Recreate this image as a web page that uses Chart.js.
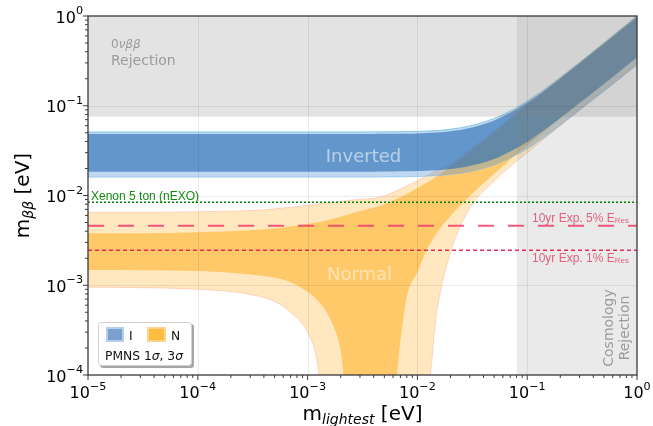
<!DOCTYPE html>
<html>
<head>
<meta charset="utf-8">
<script src="https://cdn.jsdelivr.net/npm/chart.js@4.4.1/dist/chart.umd.min.js"></script>
<style>
  html, body { margin: 0; padding: 0; background: #fff; }
  canvas { display: block; }
</style>
</head>
<body>
<canvas id="mbbChart" width="653" height="426"></canvas>
<script>
// lightest neutrino mass [eV]
const mLightest = [1e-5, 3e-5, 1e-4, 3e-4, 5e-4, 7e-4, 1e-3, 1.2e-3, 1.4e-3, 1.7e-3, 2e-3, 2.3e-3,
    3e-3, 4e-3, 5e-3, 6e-3, 7e-3, 8e-3, 1e-2, 1.2e-2, 1.5e-2, 2e-2, 3e-2, 5e-2,
    7e-2, 0.1, 0.15, 0.2, 0.3, 0.5, 0.7, 1];

// normal ordering, m_bb band edges [eV] (5e-5 = zero, below the axis)
const normal3Upper = [0.0065, 0.0065, 0.0066, 0.0068, 0.0071, 0.0074, 0.0078, 0.0080, 0.0082, 0.0084, 0.0086, 0.0088,
    0.0091, 0.0093, 0.0099, 0.0108, 0.0118, 0.0128, 0.0146, 0.0165, 0.0188, 0.0222, 0.0325, 0.052,
    0.072, 0.102, 0.152, 0.202, 0.302, 0.502, 0.702, 1.0];
const normal3Lower = [0.00095, 0.00094, 0.00090, 0.00079, 0.00066, 0.00050, 0.00030, 0.00016, 5e-5, 5e-5, 5e-5, 5e-5,
    5e-5, 5e-5, 5e-5, 5e-5, 5e-5, 5e-5, 5e-5, 5e-5, 0.00050, 0.0023, 0.0072, 0.0145,
    0.021, 0.030, 0.045, 0.060, 0.090, 0.150, 0.205, 0.29];
const normal1Upper = [0.0038, 0.0038, 0.0039, 0.0041, 0.0043, 0.0045, 0.0048, 0.0050, 0.0052, 0.0055, 0.0058, 0.0061,
    0.0067, 0.0073, 0.0080, 0.0088, 0.0096, 0.0104, 0.0121, 0.0138, 0.0164, 0.0210, 0.0305, 0.0505,
    0.0705, 0.1, 0.15, 0.2, 0.3, 0.5, 0.7, 1.0];
const normal1Lower = [0.00148, 0.00147, 0.00144, 0.00132, 0.00121, 0.00108, 0.00084, 0.00070, 0.00056, 0.00036, 0.00019, 5e-5,
    5e-5, 5e-5, 5e-5, 5e-5, 0.00024, 0.00074, 0.0014, 0.0024, 0.0038, 0.0059, 0.0099, 0.0175,
    0.025, 0.036, 0.054, 0.072, 0.108, 0.18, 0.25, 0.355];

// inverted ordering
const inverted3Upper = [0.051, 0.051, 0.051, 0.051, 0.051, 0.051, 0.051, 0.051, 0.051, 0.051, 0.051, 0.051,
    0.051, 0.0511, 0.0512, 0.0513, 0.0514, 0.0515, 0.0518, 0.0522, 0.0530, 0.0548, 0.0595, 0.0722,
    0.087, 0.112, 0.158, 0.206, 0.303, 0.50, 0.70, 1.0];
const inverted3Lower = [0.016, 0.016, 0.016, 0.016, 0.016, 0.016, 0.016, 0.016, 0.016, 0.016, 0.016, 0.016,
    0.016, 0.016, 0.0161, 0.0161, 0.0161, 0.0162, 0.0162, 0.0164, 0.0166, 0.0171, 0.0184, 0.0218,
    0.0262, 0.0332, 0.0465, 0.0605, 0.089, 0.145, 0.201, 0.285];
const inverted1Upper = [0.0484, 0.0484, 0.0484, 0.0484, 0.0484, 0.0484, 0.0484, 0.0484, 0.0484, 0.0484, 0.0484, 0.0484,
    0.0484, 0.0485, 0.0486, 0.0487, 0.0488, 0.0489, 0.0492, 0.0496, 0.0503, 0.052, 0.0565, 0.0686,
    0.0834, 0.108, 0.153, 0.2, 0.295, 0.487, 0.68, 0.97];
const inverted1Lower = [0.0184, 0.0184, 0.0184, 0.0184, 0.0184, 0.0184, 0.0184, 0.0184, 0.0184, 0.0184, 0.0184, 0.0184,
    0.0184, 0.0184, 0.0185, 0.0185, 0.0186, 0.0186, 0.0187, 0.0189, 0.0191, 0.0197, 0.0213, 0.0255,
    0.031, 0.0395, 0.056, 0.073, 0.107, 0.175, 0.243, 0.345];

// limits [eV]
const decayRejection = 0.0755;   // 0vbb excluded above
const cosmoRejection = 0.08;     // cosmology excluded right of
const nexoLimit = 0.0084;
const res5Limit = 0.0046;
const res1Limit = 0.00245;

const xDecades = [-5, -4, -3, -2, -1, 0];
const yDecades = [-4, -3, -2, -1, 0];

const pts = (ys) => mLightest.map((x, i) => ({ x: x, y: ys[i] }));
const hline = (v) => [{ x: 1e-5, y: v }, { x: 1, y: v }];

const FONT = 'DejaVu Sans';
const SANS = 'Liberation Sans';

// draw a run of text pieces: [text, font, dy]
function richText(ctx, parts, x, y, align) {
    let w = 0;
    parts.forEach((p) => { ctx.font = p[1]; w += ctx.measureText(p[0]).width; });
    let cx = align === 'center' ? x - w / 2 : (align === 'right' ? x - w : x);
    ctx.textAlign = 'left';
    ctx.textBaseline = 'alphabetic';
    parts.forEach((p) => {
        ctx.font = p[1];
        ctx.fillText(p[0], cx, y + (p[2] || 0));
        cx += ctx.measureText(p[0]).width;
    });
}

function powLabel(e) {
    return [['10', `16px ${FONT}`, 0], [e < 0 ? '\u2212' + (-e) : String(e), `11.2px ${FONT}`, -8.5]];
}

const overlay = {
    id: 'overlay',
    afterDatasetsDraw(chart) {
        const { ctx, chartArea: a, scales: { x, y } } = chart;
        ctx.save();

        // grid on top of the bands
        ctx.strokeStyle = 'rgba(0,0,0,0.08)';
        ctx.lineWidth = 1;
        xDecades.slice(1, -1).forEach((e) => {
            const px = Math.round(x.getPixelForValue(Math.pow(10, e))) + 0.5;
            ctx.beginPath(); ctx.moveTo(px, a.top); ctx.lineTo(px, a.bottom); ctx.stroke();
        });
        yDecades.slice(1, -1).forEach((e) => {
            const py = Math.round(y.getPixelForValue(Math.pow(10, e))) + 0.5;
            ctx.beginPath(); ctx.moveTo(a.left, py); ctx.lineTo(a.right, py); ctx.stroke();
        });

        // text labels inside the plot
        ctx.fillStyle = 'rgba(255,255,255,0.55)';
        ctx.font = `18px ${FONT}`;
        ctx.textAlign = 'center';
        ctx.fillText('Inverted', 363.5, 161.5);
        ctx.fillStyle = 'rgba(255,255,255,0.5)';
        ctx.fillText('Normal', 359.5, 279.5);

        ctx.fillStyle = '#9b9b9b';
        richText(ctx, [['0', `12px ${FONT}`], ['\u03bd\u03b2\u03b2', `italic 12px ${FONT}`]], 111, 48, 'left');
        richText(ctx, [['Rejection', `14px ${FONT}`]], 111, 65, 'left');

        ctx.save();
        ctx.translate(613, 328);
        ctx.rotate(-Math.PI / 2);
        ctx.font = `14px ${FONT}`;
        ctx.textAlign = 'center';
        ctx.fillText('Cosmology', 0, 0);
        ctx.fillText('Rejection', 0, 16);
        ctx.restore();

        ctx.fillStyle = '#138a13';
        richText(ctx, [['Xenon 5 ton (nEXO)', `12px ${SANS}`]], 91, 200, 'left');

        ctx.fillStyle = 'rgba(222,70,110,0.85)';
        richText(ctx, [['10yr Exp. 5% E', `12px ${SANS}`], ['Res', `8px ${SANS}`, 1]], 532, 222, 'left');
        richText(ctx, [['10yr Exp. 1% E', `12px ${SANS}`], ['Res', `8px ${SANS}`, 1]], 532, 262, 'left');

        // legend box
        ctx.fillStyle = 'rgba(0,0,0,0.35)';
        ctx.beginPath(); ctx.roundRect(100, 324, 94, 44, 3); ctx.fill();
        ctx.fillStyle = '#fff';
        ctx.strokeStyle = '#d0d0d0';
        ctx.beginPath(); ctx.roundRect(98.5, 322.5, 93, 43, 3); ctx.fill(); ctx.stroke();
        ctx.fillStyle = 'rgb(180,206,236)';
        ctx.fillRect(106, 327, 18, 15);
        ctx.fillStyle = 'rgb(122,160,206)';
        ctx.fillRect(108, 329, 14, 11);
        ctx.fillStyle = 'rgb(253,212,140)';
        ctx.fillRect(147, 327, 19, 15);
        ctx.fillStyle = 'rgb(251,188,64)';
        ctx.fillRect(149, 329, 15, 11);
        ctx.fillStyle = '#111';
        richText(ctx, [['I', `12.3px ${FONT}`]], 129, 340, 'left');
        richText(ctx, [['N', `12.3px ${FONT}`]], 171, 340, 'left');
        richText(ctx, [['PMNS 1', `12.3px ${FONT}`], ['\u03c3', `italic 12.3px ${FONT}`], [', 3', `12.3px ${FONT}`],
            ['\u03c3', `italic 12.3px ${FONT}`]], 105, 360, 'left');

        // frame
        ctx.strokeStyle = '#3a3a3a';
        ctx.lineWidth = 1.3;
        ctx.strokeRect(a.left, a.top, a.right - a.left, a.bottom - a.top);

        // ticks and tick labels
        ctx.strokeStyle = '#3a3a3a';
        ctx.lineWidth = 1;
        xDecades.forEach((e) => {
            for (let k = 1; k <= 9; k++) {
                const v = k * Math.pow(10, e);
                if (v > 1.0001) break;
                const px = x.getPixelForValue(v);
                const len = k === 1 ? 5 : 3;
                ctx.beginPath(); ctx.moveTo(px, a.bottom); ctx.lineTo(px, a.bottom + len); ctx.stroke();
            }
        });
        yDecades.forEach((e) => {
            for (let k = 1; k <= 9; k++) {
                const v = k * Math.pow(10, e);
                if (v > 1.0001) break;
                const py = y.getPixelForValue(v);
                const len = k === 1 ? 5 : 3;
                ctx.beginPath(); ctx.moveTo(a.left, py); ctx.lineTo(a.left - len, py); ctx.stroke();
            }
        });
        ctx.fillStyle = '#000';
        xDecades.forEach((e) => {
            richText(ctx, powLabel(e), x.getPixelForValue(Math.pow(10, e)), 398, 'center');
        });
        yDecades.forEach((e) => {
            richText(ctx, powLabel(e), 83, y.getPixelForValue(Math.pow(10, e)) + 6.5, 'right');
        });

        // axis titles
        richText(ctx, [['m', `20px ${FONT}`], ['lightest', `italic 14px ${FONT}`, 4], [' [eV]', `20px ${FONT}`]],
            (a.left + a.right) / 2, 420, 'center');
        ctx.save();
        ctx.translate(29, (a.top + a.bottom) / 2);
        ctx.rotate(-Math.PI / 2);
        richText(ctx, [['m', `20px ${FONT}`], ['\u03b2\u03b2', `italic 14px ${FONT}`, 4], [' [eV]', `20px ${FONT}`]],
            0, 0, 'center');
        ctx.restore();

        ctx.restore();
    }
};

const band = (ys, color, border, order) => ({
    data: pts(ys), fill: color ? '+1' : false, backgroundColor: color || 'transparent',
    borderColor: border || 'transparent', borderWidth: border ? 1 : 0, order: order
});

const canvas = document.getElementById('mbbChart');
const ctx = canvas.getContext('2d');

new Chart(ctx, {
    type: 'line',
    data: {
        datasets: [
            band(normal3Upper, 'rgba(255,165,0,0.25)', 'rgba(255,150,150,0.35)', 10),
            band(normal3Lower, null, 'rgba(255,150,150,0.35)', 10),
            band(normal1Upper, 'rgba(255,165,0,0.45)', null, 9),
            band(normal1Lower, null, null, 9),
            band(inverted3Upper, 'rgba(74,144,217,0.35)', 'rgba(120,200,225,0.9)', 8),
            band(inverted3Lower, null, 'rgba(150,200,230,0.6)', 8),
            band(inverted1Upper, 'rgba(40,110,180,0.61)', null, 7),
            band(inverted1Lower, null, null, 7),
            { data: hline(decayRejection), fill: 'end', backgroundColor: 'rgba(128,128,128,0.22)', borderWidth: 0, order: 6 },
            { data: [{ x: cosmoRejection, y: 1 }, { x: 1, y: 1 }], fill: 'start', backgroundColor: 'rgba(128,128,128,0.17)', borderWidth: 0, order: 5 },
            { data: hline(nexoLimit), borderColor: 'green', borderWidth: 1.5, borderDash: [2, 2], fill: false, order: 4 },
            { data: hline(res5Limit), borderColor: 'rgba(238,60,105,0.85)', borderWidth: 2, borderDash: [16, 14], fill: false, order: 3 },
            { data: hline(res1Limit), borderColor: 'rgba(230,20,80,0.9)', borderWidth: 1.4, borderDash: [4, 3], fill: false, order: 2 },
        ],
    },
    options: {
        responsive: false,
        animation: false,
        devicePixelRatio: 1,
        layout: { padding: { top: 16, right: 16, left: 0, bottom: 0 } },
        elements: { point: { radius: 0 }, line: { cubicInterpolationMode: 'monotone' } },
        plugins: { legend: { display: false }, tooltip: { enabled: false } },
        scales: {
            x: {
                type: 'logarithmic', min: 1e-5, max: 1,
                ticks: { display: false }, grid: { display: false }, border: { display: false },
                afterFit: (s) => { s.height = 51; },
            },
            y: {
                type: 'logarithmic', min: 1e-4, max: 1,
                ticks: { display: false }, grid: { display: false }, border: { display: false },
                afterFit: (s) => { s.width = 88; },
            },
        },
    },
    plugins: [overlay],
});
</script>
</body>
</html>
